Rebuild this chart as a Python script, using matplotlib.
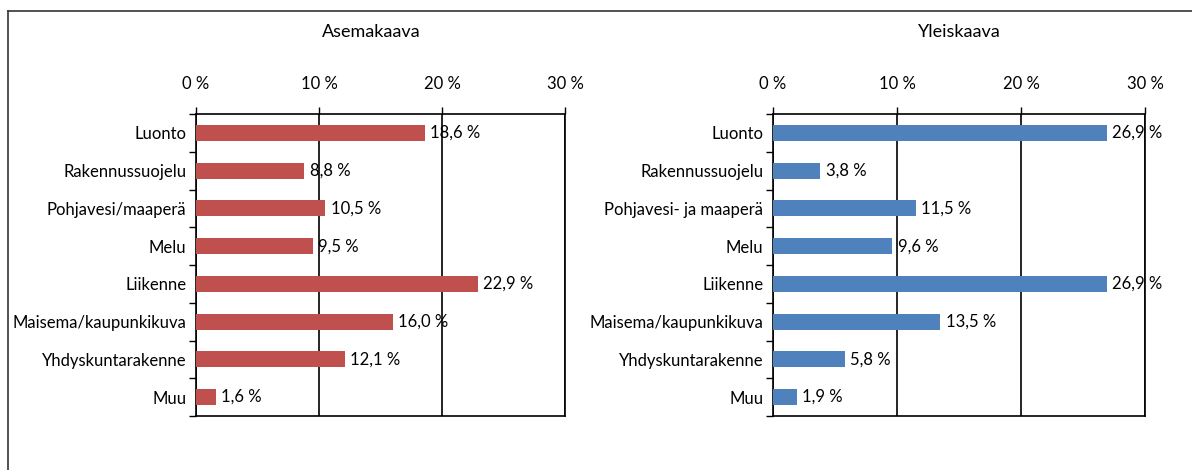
import matplotlib.pyplot as plt
import numpy as np
from matplotlib.lines import Line2D

plt.rcParams["font.family"] = ["Lato", "DejaVu Sans"]
plt.rcParams["font.size"] = 12

# --- data ---
left_title = "Asemakaava"
right_title = "Yleiskaava"
left_categories = ["Luonto", "Rakennussuojelu", "Pohjavesi/maaperä", "Melu",
                   "Liikenne", "Maisema/kaupunkikuva", "Yhdyskuntarakenne", "Muu"]
right_categories = ["Luonto", "Rakennussuojelu", "Pohjavesi- ja maaperä", "Melu",
                    "Liikenne", "Maisema/kaupunkikuva", "Yhdyskuntarakenne", "Muu"]
left_values = [18.6, 8.8, 10.5, 9.5, 22.9, 16.0, 12.1, 1.6]
right_values = [26.9, 3.8, 11.5, 9.6, 26.9, 13.5, 5.8, 1.9]
x_ticks = [0, 10, 20, 30]


def fmt(v):
    return f"{v:.1f}".replace(".", ",") + " %"


def draw_panel(ax, categories, values, color):
    y = np.arange(len(categories))
    ax.barh(y, values, height=0.42, color=color, zorder=3)
    ax.set_ylim(len(categories) - 0.5, -0.5)
    ax.set_xlim(0, 30)
    ax.set_yticks(y)
    ax.set_yticklabels(categories)
    ax.set_yticks(np.arange(len(categories) + 1) - 0.5, minor=True)
    ax.tick_params(axis="y", which="major", length=0, pad=7)
    ax.tick_params(axis="y", which="minor", length=5, width=1, direction="out")
    ax.xaxis.tick_top()
    ax.set_xticks(x_ticks)
    ax.set_xticklabels([f"{t} %" for t in x_ticks])
    ax.tick_params(axis="x", length=5, width=1, direction="out", pad=11)
    ax.grid(axis="x", color="black", linewidth=1.2, zorder=1)
    for s in ax.spines.values():
        s.set_color("black")
        s.set_linewidth(1.2)
    for yi, v in zip(y, values):
        ax.annotate(fmt(v), (v, yi), xytext=(4, 0), textcoords="offset points",
                    va="center", ha="left", zorder=4)


fig = plt.figure(figsize=(11.92, 4.70), dpi=100)
ax1 = fig.add_axes([196 / 1192, 54 / 470, 369 / 1192, 302 / 470])
ax2 = fig.add_axes([773 / 1192, 54 / 470, 372 / 1192, 302 / 470])

draw_panel(ax1, left_categories, left_values, "#C0504D")
draw_panel(ax2, right_categories, right_values, "#4F81BD")

fig.text(371 / 1192, 1 - 32 / 470, left_title, ha="center", va="center", fontsize=13)
fig.text(959 / 1192, 1 - 32 / 470, right_title, ha="center", va="center", fontsize=13)

# outer frame (left and top edges visible)
fig.add_artist(Line2D([8 / 1192, 8 / 1192], [0, 1 - 11 / 470], color="#333333",
                      linewidth=1.2, transform=fig.transFigure))
fig.add_artist(Line2D([8 / 1192, 1], [1 - 11 / 470, 1 - 11 / 470], color="#333333",
                      linewidth=1.2, transform=fig.transFigure))

fig.savefig("out.png", dpi=100)
